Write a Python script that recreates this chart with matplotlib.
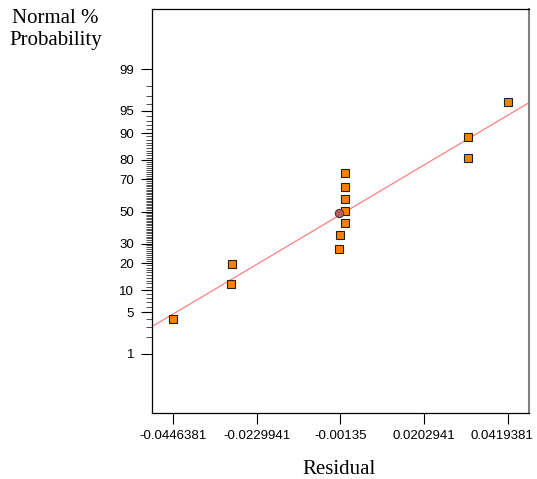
import numpy as np
import matplotlib
matplotlib.use("Agg")
import matplotlib.pyplot as plt
from matplotlib.ticker import FixedLocator, FixedFormatter, NullFormatter
from matplotlib.transforms import ScaledTranslation
from statistics import NormalDist

# Residuals and their normal probability (%) positions
residuals = [-0.0446381, -0.02962, -0.02944, -0.00166, -0.00148,
             -0.00026, -0.00026, -0.00026, -0.00026, -0.00026,
             0.03158, 0.03166, 0.0419381]
probability = [3.9, 11.7, 19.5, 27.2, 35.2,
               42.7, 50.3, 58.1, 65.8, 73.4,
               81.0, 88.7, 96.3]

# Highlighted point
circle_residual = [-0.00166]
circle_probability = [48.8]

# Reference normal line
line_center = 0.0
line_sigma = 0.0267

x_ticks = [-0.0446381, -0.0229941, -0.00135, 0.0202941, 0.0419381]
x_tick_labels = ["-0.0446381", "-0.0229941", "-0.00135", "0.0202941", "0.0419381"]
y_major = [1, 5, 10, 20, 30, 50, 70, 80, 90, 95, 99]
y_minor = [p for p in range(2, 99) if p not in y_major]

_nd = NormalDist()


def probit(p):
    p = np.clip(np.asarray(p, dtype=float) / 100.0, 1e-9, 1 - 1e-9)
    return np.vectorize(_nd.inv_cdf)(p)


def inv_probit(z):
    z = np.asarray(z, dtype=float)
    return 100.0 * np.vectorize(_nd.cdf)(z)


fig = plt.figure(figsize=(5.37, 4.79), dpi=100)
ax = fig.add_axes([152.3 / 537, 1 - 412.7 / 479, (529 - 152.3) / 537, (412.7 - 9.3) / 479])
ax.set_yscale("function", functions=(probit, inv_probit))

xlim = (-0.05008, 0.04746)
ax.set_xlim(*xlim)
ax.set_ylim(0.051, 99.952)

# Fitted normal line
line_dist = NormalDist(line_center, line_sigma)
lx = list(xlim)
ly = [100 * line_dist.cdf(v) for v in lx]
ax.plot(lx, ly, color="#ff8080", lw=0.9, zorder=2)

ax.plot(residuals, probability, ls="none", marker="s", ms=5.4,
        mfc="#ff8000", mec="#202020", mew=0.8, zorder=3)
ax.plot(circle_residual, circle_probability, ls="none", marker="o", ms=6.0,
        mfc="#c05a5a", mec="#404040", mew=0.8, zorder=4)

ax.xaxis.set_major_locator(FixedLocator(x_ticks))
ax.xaxis.set_major_formatter(FixedFormatter(x_tick_labels))
ax.yaxis.set_major_locator(FixedLocator(y_major))
ax.yaxis.set_major_formatter(FixedFormatter([str(v) for v in y_major]))
ax.yaxis.set_minor_locator(FixedLocator(y_minor))
ax.yaxis.set_minor_formatter(NullFormatter())
ax.xaxis.set_minor_locator(FixedLocator([]))

ax.tick_params(axis="both", which="major", direction="out", length=7.6, width=0.8,
               color="black", labelsize=9.5)
ax.tick_params(axis="y", which="minor", direction="out", length=4, width=0.6, color="#333333")
ax.tick_params(axis="y", which="major", pad=5.5)
ax.tick_params(axis="x", which="major", pad=5)
for lab in ax.get_xticklabels() + ax.get_yticklabels():
    lab.set_fontfamily("Liberation Sans")
    lab.set_fontsize(9.5)

# keep the rightmost residual label inside the figure
last_label = ax.xaxis.get_major_ticks()[-1].label1
last_label.set_transform(last_label.get_transform()
                         + ScaledTranslation(-6 / 100, 0, fig.dpi_scale_trans))

for side in ["left", "top", "bottom"]:
    ax.spines[side].set_color("black")
    ax.spines[side].set_linewidth(0.9)
ax.spines["right"].set_color("#808080")
ax.spines["right"].set_linewidth(1.5)

title_font = dict(family="Liberation Serif", size=15, color="black")
fig.text(55 / 537, 1 - 22.7 / 479, "Normal %", ha="center", va="baseline", **title_font)
fig.text(56 / 537, 1 - 45 / 479, "Probability", ha="center", va="baseline", **title_font)
fig.text(338.7 / 537, 1 - 474 / 479, "Residual", ha="center", va="baseline", **title_font)

fig.savefig("out.png", dpi=100)
